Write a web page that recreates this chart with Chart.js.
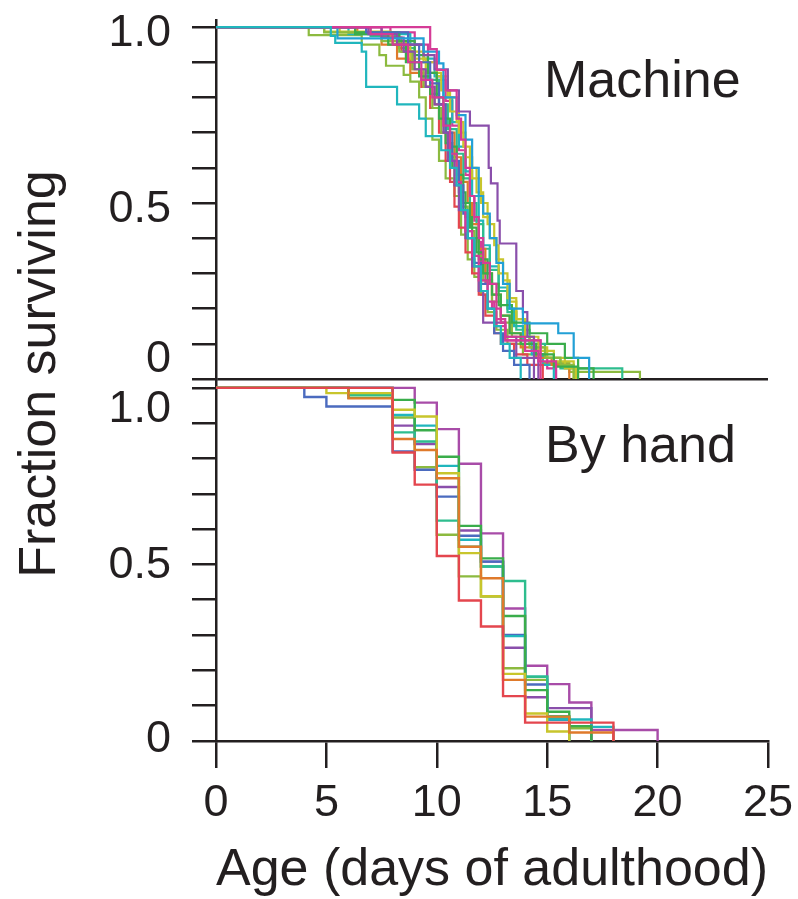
<!DOCTYPE html>
<html>
<head>
<meta charset="utf-8">
<script src="https://cdn.jsdelivr.net/npm/chart.js@4.4.1/dist/chart.umd.min.js"></script>
<style>
  html, body { margin: 0; padding: 0; background: #ffffff; }
  #wrap { width: 798px; height: 899px; position: relative; }
</style>
</head>
<body>
<div id="wrap"><canvas id="c"></canvas></div>
<script>
// ---------------- DATA ----------------
// x ticks (days of adulthood) and y ticks (fraction surviving)
const X_TICKS = [0, 5, 10, 15, 20, 25];
const Y_TICKS = [0, 0.1, 0.2, 0.3, 0.4, 0.5, 0.6, 0.7, 0.8, 0.9, 1.0];
const Y_LABEL_VALUES = [0, 0.5, 1.0];
const Y_LABEL_TEXT = ['0', '0.5', '1.0'];

// Machine-scored survival curves: [day, fraction surviving]
const machineCyanA = [[0,1],[5.2,0.975],[5.4,0.955],[6.6,0.93],[6.8,0.83],[8.2,0.78],[9.2,0.74],[9.5,0.69],[10.2,0.65],[10.6,0.6],[10.9,0.55],[11.1,0.48],[11.4,0.4],[11.7,0.32],[12.0,0.25],[12.3,0.2],[12.6,0.15],[12.9,0.1],[13.3,0.06],[13.8,0]];
const machineMagentaA = [[0,1],[9.7,0.937],[10.0,0.878],[10.4,0.82],[10.9,0.74],[11.1,0.68],[11.3,0.6],[11.5,0.52],[11.7,0.46],[11.9,0.4],[12.1,0.33],[12.4,0.27],[12.7,0.2],[12.9,0.16],[13.1,0.11],[14.7,0]];
const machineMagentaB = [[0,1],[7.0,0.98],[8.0,0.95],[8.7,0.9],[9.3,0.85],[9.8,0.8],[10.3,0.72],[10.6,0.64],[10.9,0.56],[11.1,0.48],[11.3,0.42],[11.6,0.35],[11.9,0.28],[12.3,0.22],[12.6,0.17],[13.1,0.12],[14.0,0.08],[14.6,0.05],[15.4,0]];
const machineSky = [[0,1],[5.5,0.968],[9.4,0.93],[10.1,0.897],[10.3,0.8],[10.9,0.75],[11.3,0.68],[11.6,0.6],[11.9,0.52],[12.1,0.47],[12.4,0.4],[12.7,0.33],[13.0,0.27],[13.3,0.2],[13.9,0.158],[15.5,0.13],[16.2,0.06],[16.9,0]];
const machineVioletA = [[0,1],[6.9,0.98],[8.2,0.95],[9.4,0.92],[9.9,0.88],[10.5,0.82],[11.0,0.76],[11.5,0.72],[12.35,0.6],[12.45,0.556],[12.75,0.45],[12.85,0.385],[13.6,0.25],[13.9,0.19],[14.1,0.12],[14.4,0.06],[14.6,0]];
const machineVioletB = [[0,1],[7.5,0.97],[8.5,0.93],[9.0,0.88],[9.5,0.83],[9.9,0.78],[10.3,0.7],[10.5,0.62],[10.8,0.55],[11.0,0.48],[11.3,0.4],[11.6,0.32],[11.9,0.25],[12.1,0.16],[13.1,0.12],[13.6,0.06],[14.4,0]];
const machineBlue = [[0,1],[6.8,0.985],[8.7,0.95],[9.2,0.9],[9.7,0.84],[10.1,0.78],[10.4,0.7],[10.7,0.62],[11.0,0.55],[11.2,0.47],[11.4,0.4],[11.7,0.33],[12.0,0.27],[12.3,0.2],[12.6,0.13],[13.0,0.08],[13.5,0.04],[14.2,0]];
const machineGreenA = [[0,1],[6.3,0.985],[8.3,0.96],[9.0,0.92],[9.6,0.87],[10.0,0.8],[10.3,0.74],[10.6,0.66],[10.9,0.58],[11.2,0.5],[11.5,0.43],[11.8,0.36],[12.1,0.3],[12.5,0.24],[12.9,0.18],[13.3,0.13],[13.8,0.1],[14.5,0.07],[15.3,0.035],[16.4,0]];
const machineGreenB = [[0,1],[6.3,0.98],[7.8,0.95],[8.6,0.9],[9.2,0.86],[9.7,0.81],[10.1,0.74],[10.4,0.67],[10.7,0.6],[11.0,0.53],[11.3,0.46],[11.6,0.4],[11.9,0.34],[12.3,0.27],[12.8,0.21],[13.4,0.16],[14.2,0.13],[15.0,0.1],[15.8,0.06],[16.4,0.03],[17.1,0]];
const machineLimeB = [[0,1],[4.9,0.985],[7.5,0.96],[8.3,0.93],[8.9,0.88],[9.4,0.83],[9.8,0.77],[10.2,0.7],[10.5,0.63],[10.8,0.56],[11.1,0.49],[11.4,0.42],[11.7,0.35],[12.1,0.28],[12.5,0.22],[12.9,0.16],[13.4,0.12],[14.2,0.09],[14.9,0.06],[15.6,0.04],[16.2,0]];
const machineYellowA = [[0,1],[4.9,0.987],[7.9,0.96],[8.6,0.93],[9.4,0.9],[10.0,0.86],[10.5,0.8],[10.9,0.73],[11.2,0.66],[11.5,0.6],[11.8,0.53],[12.1,0.46],[12.4,0.4],[12.7,0.34],[13.0,0.28],[13.3,0.22],[13.6,0.17],[14.0,0.12],[14.6,0.08],[15.3,0.05],[16.2,0]];
const machineYellowB = [[0,1],[5.6,0.985],[8.0,0.95],[8.8,0.91],[9.5,0.87],[10.2,0.82],[10.6,0.76],[11.0,0.7],[11.3,0.63],[11.6,0.57],[12.0,0.5],[12.3,0.44],[12.6,0.38],[12.8,0.3],[13.2,0.23],[13.6,0.17],[14.0,0.12],[14.4,0.09],[15.0,0.06],[15.8,0.03],[16.3,0]];
const machineOrange = [[0,1],[6.4,0.985],[7.5,0.95],[8.2,0.91],[8.8,0.87],[9.4,0.83],[9.9,0.78],[10.4,0.7],[10.8,0.63],[11.1,0.56],[11.4,0.5],[11.6,0.44],[11.9,0.37],[12.2,0.3],[12.5,0.24],[12.9,0.18],[13.3,0.13],[13.8,0.09],[14.5,0.06],[15.2,0.04],[16.0,0]];
const machineRed = [[0,1],[7.5,0.97],[8.4,0.93],[8.9,0.88],[9.3,0.83],[9.7,0.77],[10.1,0.7],[10.4,0.62],[10.6,0.56],[10.8,0.49],[11.0,0.43],[11.3,0.36],[11.6,0.3],[11.9,0.24],[12.2,0.18],[12.6,0.13],[12.9,0.1],[13.5,0.07],[14.1,0.04],[14.8,0]];
const machineMint = [[0,1],[7.0,0.975],[8.3,0.94],[9.0,0.9],[9.6,0.85],[10.1,0.78],[10.5,0.71],[10.9,0.64],[11.2,0.57],[11.5,0.5],[11.8,0.44],[12.1,0.37],[12.4,0.31],[12.8,0.25],[13.2,0.19],[13.6,0.14],[14.2,0.1],[14.9,0.06],[15.6,0.03],[18.4,0]];
const machineCyanB = [[0,1],[6.0,0.98],[8.8,0.95],[9.4,0.91],[9.9,0.86],[10.3,0.8],[10.7,0.73],[11.0,0.66],[11.3,0.59],[11.6,0.52],[11.9,0.45],[12.1,0.38],[12.4,0.32],[12.8,0.26],[13.2,0.2],[13.5,0.15],[13.9,0.11],[14.3,0.07],[14.8,0.04],[15.3,0]];
const machineMagentaC = [[0,1],[7.9,0.985],[9.0,0.95],[9.6,0.9],[10.0,0.85],[10.4,0.79],[10.7,0.72],[11.0,0.65],[11.3,0.58],[11.5,0.52],[11.7,0.45],[11.9,0.39],[12.0,0.33],[12.2,0.27],[12.5,0.2],[12.7,0.15],[13.1,0.11],[14.7,0.063],[15.0,0.03],[15.4,0]];
const machineLimeA = [[0,1],[4.2,0.977],[6.6,0.95],[7.4,0.92],[7.7,0.89],[8.5,0.864],[8.8,0.845],[9.2,0.8],[9.5,0.74],[9.8,0.68],[10.1,0.62],[10.4,0.57],[10.8,0.52],[11.1,0.41],[11.4,0.34],[11.7,0.29],[12.0,0.24],[12.3,0.19],[12.7,0.14],[13.2,0.1],[13.9,0.07],[14.8,0.045],[16.0,0.02],[19.2,0]];

// Hand-scored survival curves: [day, fraction surviving]
const handRed = [[0,1],[8,0.817],[9,0.726],[10,0.524],[11,0.398],[12,0.324],[13,0.127],[14,0.052],[18,0]];
const handOrange = [[0,1],[6,0.97],[8,0.855],[9,0.824],[10,0.744],[11,0.55],[12,0.461],[13,0.173],[14,0.069],[16,0.024],[18,0]];
const handYellow = [[0,1],[5,0.985],[8,0.938],[9,0.919],[10,0.758],[11,0.532],[12,0.41],[13,0.19],[14,0.078],[15,0.027],[16,0]];
const handGreen = [[0,1],[6,0.972],[8,0.966],[9,0.88],[10,0.805],[11,0.609],[12,0.517],[13,0.354],[14,0.144],[15,0.083],[16,0.042],[17,0]];
const handMint = [[0,1],[6,0.98],[8,0.874],[9,0.848],[10,0.624],[11,0.55],[12,0.494],[13,0.453],[14,0.182],[15,0.07],[16,0]];
const handCyan = [[0,1],[8,0.923],[9,0.893],[10,0.779],[11,0.57],[12,0.494],[13,0.297],[14,0.182],[15,0.061],[17,0.04],[18,0]];
const handBlue = [[0,1],[4,0.974],[5,0.947],[8,0.82],[9,0.768],[10,0.692],[11,0.581],[12,0.508],[13,0.3],[14,0.16],[15,0.06],[16,0]];
const handViolet = [[0,1],[8,0.893],[9,0.841],[10,0.719],[11,0.596],[12,0.508],[13,0.264],[14,0.124],[15,0.093],[17,0]];
const handPurple = [[0,1],[9,0.958],[10,0.883],[11,0.785],[12,0.588],[13,0.375],[14,0.213],[15,0.161],[16,0.109],[17,0.031],[20,0]];
const handLime = [[0,1],[8,0.916],[9,0.775],[10,0.584],[11,0.466],[12,0.409],[13,0.206],[14,0.173],[15,0.064],[16,0.036],[17,0]];

// ---------------- STYLE ----------------
const INK = '#231f20';
const FONT = '"Liberation Sans", Arial, Helvetica, sans-serif';
const AXIS_W = 2.5;
const C = {
  red: '#e4464e', orange: '#df7a2b', yellow: '#c8c52c', lime: '#8cba3f', green: '#3aad4b',
  mint: '#2ebd8e', cyan: '#20b6bd', sky: '#22a0d6', blue: '#4b6bbf', violet: '#8a4fab',
  magenta: '#d53b97', purple: '#a84ca8'
};
const machineSeries = [
  [machineCyanA, C.cyan], [machineMagentaA, C.magenta], [machineMagentaB, C.magenta],
  [machineSky, C.sky], [machineVioletA, C.violet], [machineVioletB, C.violet],
  [machineBlue, C.blue], [machineGreenA, C.green], [machineGreenB, C.green],
  [machineLimeB, C.lime], [machineYellowA, C.yellow], [machineYellowB, C.yellow],
  [machineOrange, C.orange], [machineRed, C.red], [machineMint, C.mint],
  [machineCyanB, C.cyan], [machineMagentaC, C.magenta], [machineLimeA, C.lime]
];
const handSeries = [
  [handRed, C.red], [handOrange, C.orange], [handYellow, C.yellow], [handGreen, C.green],
  [handMint, C.mint], [handCyan, C.cyan], [handBlue, C.blue], [handViolet, C.violet],
  [handPurple, C.purple], [handLime, C.lime]
];

function toDataset(pairs, color, axis, width) {
  return {
    data: pairs.map(p => ({ x: p[0], y: p[1] })),
    yAxisID: axis, borderColor: color, borderWidth: width,
    stepped: 'before', pointRadius: 0, fill: false, tension: 0
  };
}
const datasets = [
  ...machineSeries.map(s => toDataset(s[0], s[1], 'yTop', 2.2)),
  ...handSeries.map(s => toDataset(s[0], s[1], 'yBot', 2.4))
];

// label vertical shifts (px) of the y tick labels, per panel, in order of Y_LABEL_VALUES
const LABEL_SHIFT = { yTop: [-7, 19, 19], yBot: [11, 14, 34] };

const textPlugin = {
  id: 'panelText',
  afterDraw(chart) {
    const ctx = chart.ctx;
    ctx.save();
    ctx.fillStyle = INK;
    ctx.textBaseline = 'alphabetic';
    // y tick labels
    ctx.font = '45px ' + FONT;
    ctx.textAlign = 'right';
    ['yTop', 'yBot'].forEach(id => {
      const s = chart.scales[id];
      Y_LABEL_VALUES.forEach((v, i) => {
        ctx.fillText(Y_LABEL_TEXT[i], s.right - 45, s.getPixelForValue(v) + LABEL_SHIFT[id][i]);
      });
    });
    // panel labels
    ctx.font = '52px ' + FONT;
    ctx.textAlign = 'left';
    ctx.fillText('Machine', 544, 97);
    ctx.fillText('By hand', 545, 462);
    // y axis title
    ctx.translate(55, 374);
    ctx.rotate(-Math.PI / 2);
    ctx.textAlign = 'center';
    ctx.fillText('Fraction surviving', 0, 0);
    ctx.restore();
  }
};

const yCommon = {
  type: 'linear', position: 'left', stack: 'panels',
  afterBuildTicks: s => { s.ticks = Y_TICKS.map(v => ({ value: v })); },
  afterFit: s => { s.width = 216; s.paddingTop = 0; s.paddingBottom = 0; },
  border: { display: true, color: INK, width: AXIS_W },
  ticks: { display: false }
};

new Chart(document.getElementById('c'), {
  type: 'line',
  data: { datasets },
  options: {
    responsive: true, maintainAspectRatio: false, animation: false,
    layout: { padding: { top: 20, right: 30, left: 0, bottom: 0 } },
    plugins: { legend: { display: false }, tooltip: { enabled: false } },
    scales: {
      x: {
        type: 'linear', min: 0, max: 25,
        afterBuildTicks: s => { s.ticks = X_TICKS.map(v => ({ value: v })); },
        afterFit: s => { s.height = 158; s.paddingLeft = 0; s.paddingRight = 0; },
        border: { display: true, color: INK, width: AXIS_W },
        grid: { drawOnChartArea: false, drawTicks: true, tickLength: 27, tickColor: INK, tickWidth: AXIS_W, color: INK, lineWidth: AXIS_W },
        ticks: { color: INK, font: { family: FONT, size: 45 }, padding: 9, maxRotation: 0, autoSkip: false },
        title: { display: true, text: 'Age (days of adulthood)', color: INK, font: { family: FONT, size: 52, lineHeight: 1.1 }, padding: 0 }
      },
      yBot: Object.assign({}, yCommon, {
        min: 0, max: 1.025, stackWeight: 362,
        grid: { drawOnChartArea: false, drawTicks: true, tickLength: 24, tickColor: INK, tickWidth: AXIS_W, color: INK, lineWidth: AXIS_W }
      }),
      yTop: Object.assign({}, yCommon, {
        min: 0, max: 1.02, stackWeight: 359,
        grid: {
          drawOnChartArea: true, drawTicks: true, tickLength: 24, tickColor: INK, tickWidth: AXIS_W, lineWidth: AXIS_W,
          color: ctx => (ctx.tick && ctx.tick.value === 0) ? INK : 'rgba(0,0,0,0)'
        }
      })
    }
  },
  plugins: [textPlugin]
});
</script>
</body>
</html>
